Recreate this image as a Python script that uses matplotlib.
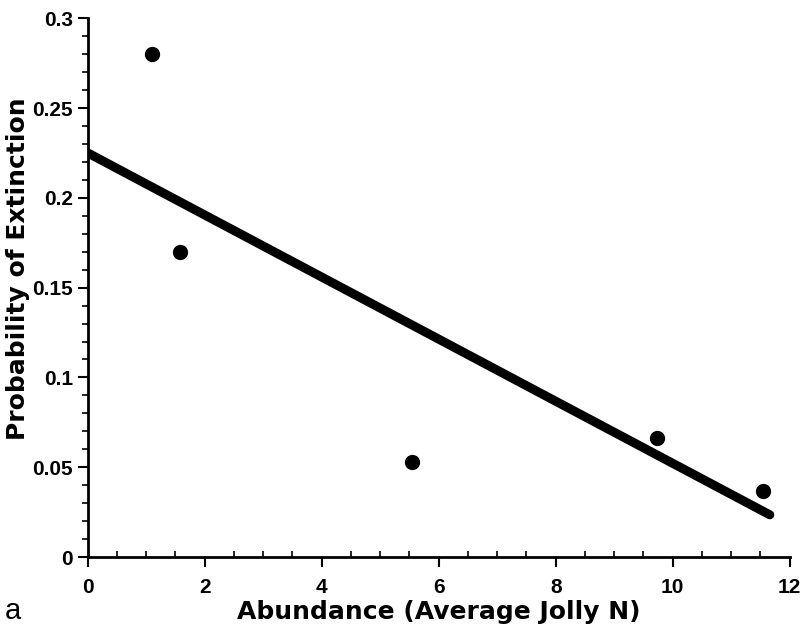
import matplotlib
matplotlib.use("Agg")
import numpy as np
from matplotlib import pyplot as plt
from matplotlib.ticker import MultipleLocator

plt.rcParams['font.family'] = ['Liberation Sans', 'DejaVu Sans']

# observed points
abundance = [1.1, 1.57, 5.54, 9.73, 11.54]
p_extinct = [0.280, 0.170, 0.053, 0.066, 0.037]

# fitted line end points
fit_x = [0.0, 11.66]
fit_y = [0.225, 0.0235]

fig = plt.figure(figsize=(8.05, 6.28), dpi=100)
ax = fig.add_axes([0.109, 0.113, 0.872, 0.858])

ax.plot(fit_x, fit_y, color='black', lw=6.5, solid_capstyle='round', zorder=2)
ax.plot(abundance, p_extinct, 'o', color='black', ms=10, zorder=3)

ax.set_xlim(0, 12)
ax.set_ylim(0, 0.3)
ax.xaxis.set_major_locator(MultipleLocator(2))
ax.xaxis.set_minor_locator(MultipleLocator(0.5))
ax.yaxis.set_minor_locator(MultipleLocator(0.01))
ax.set_yticks([0, 0.05, 0.1, 0.15, 0.2, 0.25, 0.3])
ax.set_yticklabels(['0', '0.05', '0.1', '0.15', '0.2', '0.25', '0.3'])

for s in ['top', 'right']:
    ax.spines[s].set_visible(False)
for s in ['left', 'bottom']:
    ax.spines[s].set_linewidth(2)

ax.tick_params(axis='both', which='major', length=7, width=1.5, labelsize=15)
ax.tick_params(axis='x', which='major', pad=8)
ax.tick_params(axis='x', which='minor', direction='in', length=4, width=1.2)
ax.tick_params(axis='y', which='minor', direction='out', length=4, width=1.2)
for lab in ax.get_xticklabels() + ax.get_yticklabels():
    lab.set_fontweight('bold')

lab_font = dict(family='DejaVu Sans', fontsize=18, fontweight='bold')
ax.set_xlabel('Abundance (Average Jolly N)', labelpad=2, **lab_font)
ax.set_ylabel('Probability of Extinction', **lab_font)
ax.yaxis.set_label_coords(-0.082, 0.536)

fig.text(0.006, 0.015, 'a', fontsize=21)

fig.savefig('out.png', dpi=100)
